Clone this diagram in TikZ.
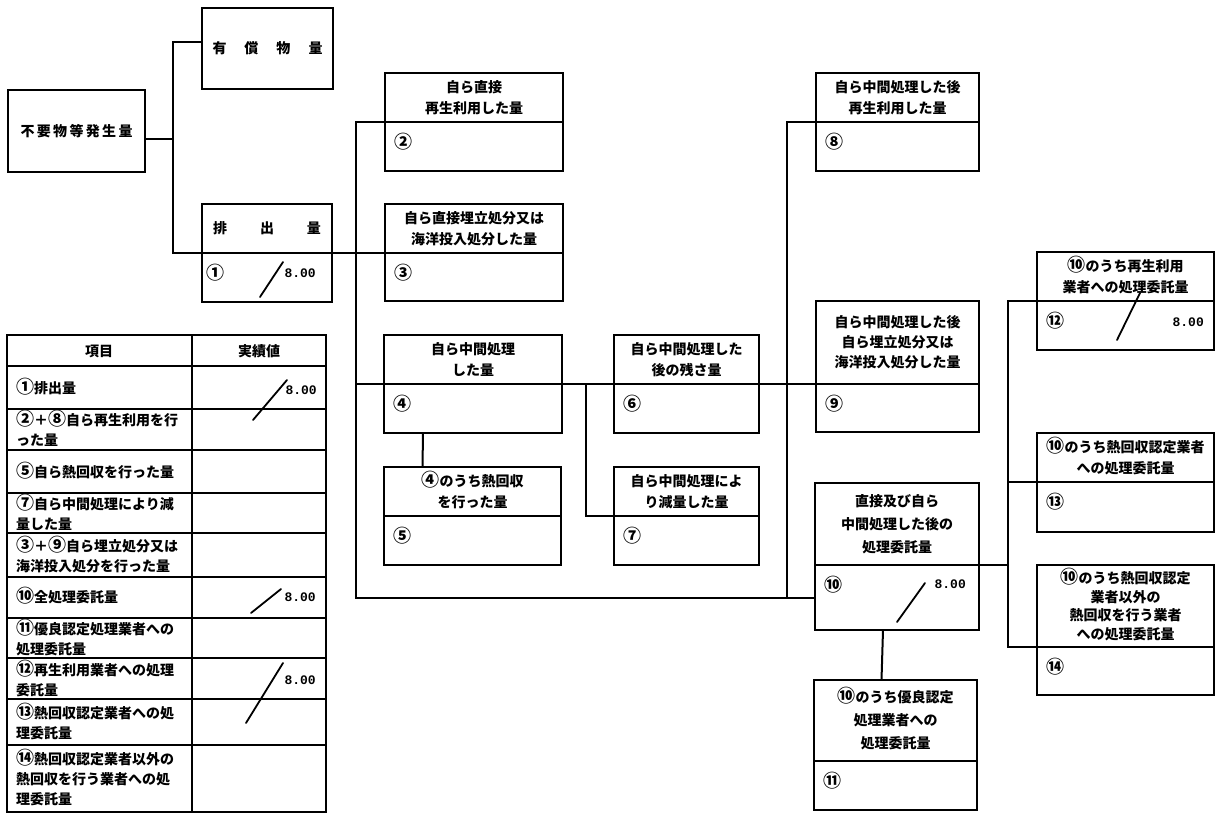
\documentclass[tikz,border=0pt]{standalone}
\usepackage{fontspec}
\usetikzlibrary{positioning}
\newfontfamily\jpfont{Noto Sans CJK JP}
\newfontfamily\monofont{Liberation Mono}
\newcommand\boxfont{\jpfont\bfseries\fontsize{14}{21}\selectfont}
\newcommand\cellfont{\jpfont\bfseries\fontsize{14}{20}\selectfont}
\newcommand\amtfont{\monofont\bfseries\fontsize{13}{14}\selectfont}
\newcommand\cnum[1]{\smash{\fontsize{18}{18}\selectfont #1}}

\begin{document}
\begin{tikzpicture}[x=1pt,y=-1pt,
  box/.style={draw,line width=2.2pt,rectangle,inner sep=0pt,outer sep=0pt,anchor=north west,minimum height=49pt,align=center,font=\boxfont},
  link/.style={line width=2pt},
  num/.style={anchor=west,inner sep=0pt,font=\jpfont\bfseries\fontsize{18}{18}\selectfont},
  amt/.style={anchor=east,inner sep=0pt,font=\amtfont},
  tick/.style={line width=1.8pt,line cap=round},
  cell/.style={anchor=west,align=left,inner sep=0pt,font=\cellfont}]
\useasboundingbox (0,0) rectangle (1217,814);

% left part
\node[box,minimum width=137pt,minimum height=82pt] (gen) at (8,90) {\makebox[112pt]{不\hfill 要\hfill 物\hfill 等\hfill 発\hfill 生\hfill 量}};
\node[box,minimum width=131pt,minimum height=81pt] (yuka) at (202,8) {\makebox[110pt]{有\hfill 償\hfill 物\hfill 量}};
\node[box,minimum width=130pt] (hai) at (202,204) {\makebox[108pt]{排\hfill 出\hfill 量}};
\node[box,minimum width=130pt,below=0pt of hai] (vhai) {};

% own treatment
\node[box,minimum width=178pt] (l2) at (385,73) {自ら直接\\再生利用した量};
\node[box,minimum width=178pt,below=0pt of l2] (v2) {};
\node[box,minimum width=178pt] (l3) at (385,204) {自ら直接埋立処分又は\\海洋投入処分した量};
\node[box,minimum width=178pt,below=0pt of l3,minimum height=48pt] (v3) {};
\node[box,minimum width=178pt] (l4) at (384,335) {自ら中間処理\\した量};
\node[box,minimum width=178pt,below=0pt of l4] (v4) {};
\node[box,minimum width=177pt] (l5) at (384,467) {\cnum{④}のうち熱回収\\を行った量};
\node[box,minimum width=177pt,below=0pt of l5] (v5) {};
\node[box,minimum width=145pt] (l6) at (614,335) {自ら中間処理した\\後の残さ量};
\node[box,minimum width=145pt,below=0pt of l6] (v6) {};
\node[box,minimum width=145pt] (l7) at (614,467) {自ら中間処理によ\\り減量した量};
\node[box,minimum width=145pt,below=0pt of l7] (v7) {};

% after intermediate treatment
\node[box,minimum width=163pt] (l8) at (816,73) {自ら中間処理した後\\再生利用した量};
\node[box,minimum width=163pt,below=0pt of l8] (v8) {};
\node[box,minimum width=163pt,minimum height=83pt,font=\jpfont\bfseries\fontsize{14}{20}\selectfont] (l9) at (816,301) {自ら中間処理した後\\自ら埋立処分又は\\海洋投入処分した量};
\node[box,minimum width=163pt,below=0pt of l9,minimum height=48pt] (v9) {};
\node[box,minimum width=164pt,minimum height=82pt,font=\jpfont\bfseries\fontsize{14}{23}\selectfont] (l10) at (815,483) {直接及び自ら\\中間処理した後の\\処理委託量};
\node[box,minimum width=164pt,below=0pt of l10,minimum height=65pt] (v10) {};
\node[box,minimum width=163pt,minimum height=81pt,font=\jpfont\bfseries\fontsize{14}{23}\selectfont] (l11) at (814,680) {\cnum{⑩}のうち優良認定\\処理業者への\\処理委託量};
\node[box,minimum width=163pt,below=0pt of l11] (v11) {};

% consigned
\node[box,minimum width=177pt] (l12) at (1037,252) {\cnum{⑩}のうち再生利用\\業者への処理委託量};
\node[box,minimum width=177pt,below=0pt of l12] (v12) {};
\node[box,minimum width=177pt] (l13) at (1037,433) {\cnum{⑩}のうち熱回収認定業者\\への処理委託量};
\node[box,minimum width=177pt,below=0pt of l13,minimum height=50pt] (v13) {};
\node[box,minimum width=177pt,minimum height=82pt,font=\jpfont\bfseries\fontsize{14}{18.5}\selectfont] (l14) at (1037,565) {\cnum{⑩}のうち熱回収認定\\業者以外の\\熱回収を行う業者\\への処理委託量};
\node[box,minimum width=177pt,below=0pt of l14,minimum height=48pt] (v14) {};

% numbers and values
\node[num] (n1) at ([xshift=4pt,yshift=-20pt]vhai.north west) {①};
\foreach \i/\c in {2/②,3/③,4/④,5/⑤,6/⑥,7/⑦,8/⑧,9/⑨,10/⑩,11/⑪,12/⑫,13/⑬,14/⑭}
  \node[num] (n\i) at ([xshift=9pt,yshift=-20pt]v\i.north west) {\c};
\node[amt] (a1) at (316,273) {8.00};
\node[amt] (a10) at (966,584) {8.00};
\node[amt] (a12) at (1204,322) {8.00};
\draw[tick] (260,297) -- (283,262);
\draw[tick] (897,622) -- (925,583);
\draw[tick] (1117,340) -- (1140,293);

% connectors
\coordinate (j1) at (173,139);
\coordinate (bt) at (356,122);
\coordinate (br) at (787,122);
\coordinate (j4) at (586,384);
\coordinate (rt) at (1008,301);
\draw[link] ([yshift=-8pt]gen.east) -- (j1);
\draw[link] ([yshift=7pt]yuka.west) -| (j1) |- (hai.south west);
\draw[link] (hai.south east) -- (l3.south west);
\draw[link] (l2.south west) -- (bt) |- (v10.west);
\draw[link] (bt |- l4.south west) -- (l4.south west);
\draw[link] (l4.south east) -- (l6.south west);
\draw[link] (l6.south east) -- (l9.south west);
\draw[link] (j4) |- (l7.south west);
\draw[link] ([xshift=-50pt]v4.south) -- ([xshift=-50pt]l5.north);
\draw[link] (l8.south west) -- (br) |- (v10.west);
\draw[link] ([xshift=-14pt]v10.south) -- ([xshift=-14pt]l11.north);
\draw[link] (l10.south east) -- (l10.south east -| rt);
\draw[link] (l12.south west) -- (rt) |- (l14.south west);
\draw[link] (l13.south west -| rt) -- (l13.south west);

% table
\draw[line width=2.2pt] (7,335) rectangle (326,812);
\draw[line width=2pt] (192,335) -- (192,812);
\foreach \y in {366,409,450,493,533,577,618,658,699,745}
  \draw[line width=2pt] (7,\y) -- (326,\y);
\node[font=\cellfont] (h1) at (99,351) {項目};
\node[font=\cellfont] (h2) at (259,351) {実績値};
\node[cell] (r1) at (16,388) {\cnum{①}排出量};
\node[cell] (r2) at (16,430) {\cnum{②}＋\cnum{⑧}自ら再生利用を行\\った量};
\node[cell] (r3) at (16,472) {\cnum{⑤}自ら熱回収を行った量};
\node[cell] (r4) at (16,514) {\cnum{⑦}自ら中間処理により減\\量した量};
\node[cell] (r5) at (16,556) {\cnum{③}＋\cnum{⑨}自ら埋立処分又は\\海洋投入処分を行った量};
\node[cell] (r6) at (16,597) {\cnum{⑩}全処理委託量};
\node[cell] (r7) at (16,639) {\cnum{⑪}優良認定処理業者への\\処理委託量};
\node[cell] (r8) at (16,680) {\cnum{⑫}再生利用業者への処理\\委託量};
\node[cell] (r9) at (16,723) {\cnum{⑬}熱回収認定業者への処\\理委託量};
\node[cell] (r10) at (16,779) {\cnum{⑭}熱回収認定業者以外の\\熱回収を行う業者への処\\理委託量};
\node[amt] (t1) at (317,390) {8.00};
\node[amt] (t6) at (316,597) {8.00};
\node[amt] (t8) at (316,680) {8.00};
\draw[tick] (253,420) -- (287,380);
\draw[tick] (251,613) -- (281,589);
\draw[tick] (246,723) -- (283,663);
\end{tikzpicture}
\end{document}
